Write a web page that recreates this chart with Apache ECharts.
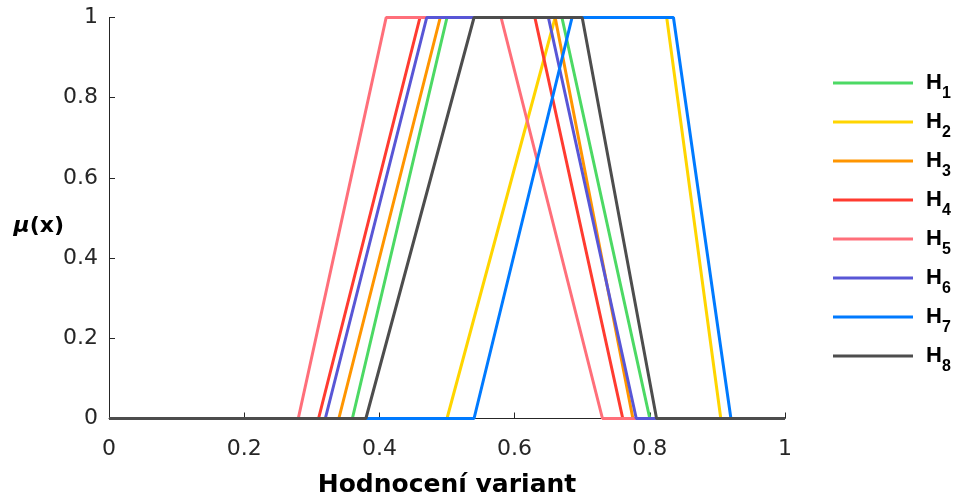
<!DOCTYPE html>
<html>
<head>
<meta charset="utf-8">
<script src="https://cdn.jsdelivr.net/npm/echarts@6/dist/echarts.min.js"></script>
<style>html,body{margin:0;padding:0;background:#fff}#c{width:954px;height:496px}</style>
</head>
<body>
<div id="c"></div>
<script>
// Trapezoidal membership functions H1..H8
const seriesIndex = ['1', '2', '3', '4', '5', '6', '7', '8'];
const riseStart = [0.36, 0.50, 0.34, 0.31, 0.28, 0.32, 0.54, 0.38];
const riseEnd   = [0.50, 0.66, 0.49, 0.46, 0.41, 0.47, 0.685, 0.54];
const fallStart = [0.67, 0.825, 0.66, 0.63, 0.58, 0.65, 0.835, 0.70];
const fallEnd   = [0.80, 0.905, 0.775, 0.76, 0.73, 0.78, 0.92, 0.81];
const domain = [0, 1];
const colors = ['#4cd964', '#ffd500', '#ff9500', '#ff3b30', '#ff6f7a', '#5856d6', '#007aff', '#4d4d4d'];
const xTicks = [0, 0.2, 0.4, 0.6, 0.8, 1];
const yTicks = [0, 0.2, 0.4, 0.6, 0.8, 1];

const FONT = 'DejaVu Sans';
const LFONT = 'Liberation Sans';
const series = seriesIndex.map((k, i) => ({
  name: 'H' + k,
  type: 'line',
  symbol: 'none',
  clip: false,
  color: colors[i],
  lineStyle: { width: 3, color: colors[i] },
  data: [
    [domain[0], 0],
    [riseStart[i], 0],
    [riseEnd[i], 1],
    [fallStart[i], 1],
    [fallEnd[i], 0],
    [domain[1], 0]
  ]
}));

const chart = echarts.init(document.getElementById('c'), null, { renderer: 'canvas' });
chart.setOption({
  animation: false,
  backgroundColor: '#fff',
  grid: { left: 109, right: 169, top: 17.5, bottom: 77.5, containLabel: false, outerBoundsMode: 'none' },
  xAxis: {
    type: 'value', min: xTicks[0], max: xTicks[xTicks.length - 1], interval: 0.2,
    name: 'Hodnocení variant', nameLocation: 'middle', nameGap: 54, nameMoveOverlap: false,
    nameTextStyle: { fontFamily: FONT, fontWeight: 'bold', fontSize: 25, color: '#000' },
    axisLine: { show: true, lineStyle: { color: '#262626', width: 1 } },
    axisTick: { show: true, inside: true, length: 6, lineStyle: { color: '#262626' } },
    axisLabel: { fontFamily: FONT, fontSize: 22, color: '#262626', margin: 20 },
    splitLine: { show: false }
  },
  yAxis: {
    type: 'value', min: yTicks[0], max: yTicks[yTicks.length - 1], interval: 0.2,
    name: '{m|μ}{p|(x)}', nameLocation: 'middle', nameRotate: 0, nameGap: 45, nameMoveOverlap: false,
    nameTextStyle: {
      padding: [16, 0, 0, 0],
      rich: {
        m: { fontFamily: FONT, fontWeight: 'bold', fontStyle: 'italic', fontSize: 22, color: '#000' },
        p: { fontFamily: FONT, fontWeight: 'bold', fontSize: 22, color: '#000' }
      }
    },
    axisLine: { show: true, lineStyle: { color: '#262626', width: 1 } },
    axisTick: { show: true, inside: true, length: 6, lineStyle: { color: '#262626' } },
    axisLabel: { fontFamily: FONT, fontSize: 22, color: '#262626', margin: 11 },
    splitLine: { show: false }
  },
  legend: {
    orient: 'vertical', left: 833, top: 72, padding: 0,
    icon: 'rect', itemWidth: 80, itemHeight: 3, itemGap: 9,
    selectedMode: false,
    formatter: name => '{z| }{h|H}{s|' + name.slice(1) + '}',
    textStyle: {
      rich: {
        z: { width: 8, lineHeight: 38, fontSize: 10 },
        h: { fontFamily: LFONT, fontWeight: 'bold', fontSize: 22, lineHeight: 22, verticalAlign: 'middle', color: '#000' },
        s: { fontFamily: LFONT, fontWeight: 'bold', fontSize: 16, lineHeight: 17, verticalAlign: 'bottom', color: '#000' }
      }
    },
    data: series.map(s => s.name)
  },
  series: series
});
</script>
</body>
</html>
